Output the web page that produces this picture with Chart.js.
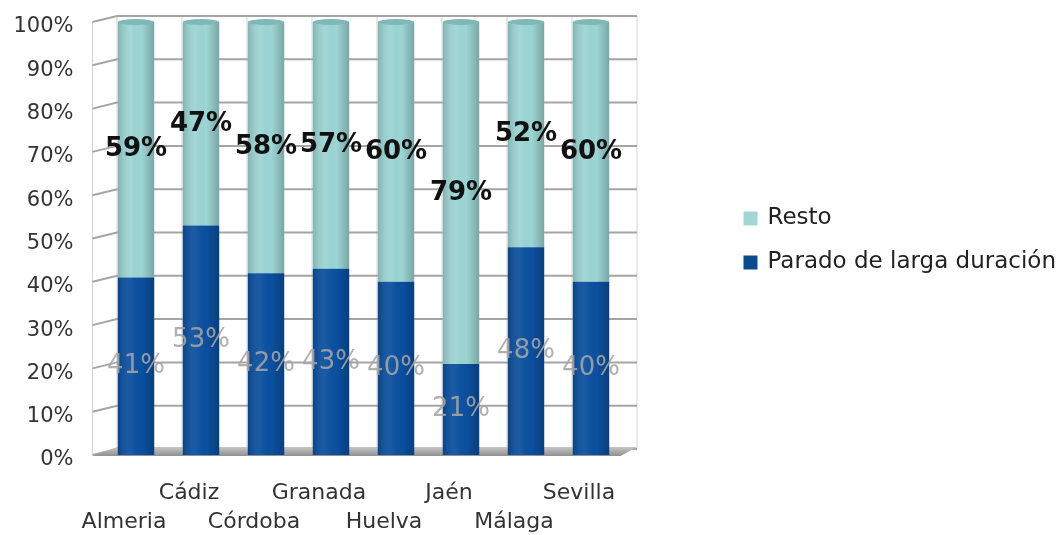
<!DOCTYPE html>
<html>
<head>
<meta charset="utf-8">
<script src="https://cdn.jsdelivr.net/npm/chart.js@4/dist/chart.umd.min.js"></script>
<style>
  body { margin: 0; background: #fff; }
</style>
</head>
<body>
<canvas id="myChart" width="1057" height="535"></canvas>
<script>
const provincias = ['Almeria', 'Cádiz', 'Córdoba', 'Granada', 'Huelva', 'Jaén', 'Málaga', 'Sevilla'];
const parado = [41, 53, 42, 43, 40, 21, 48, 40];
const resto = [59, 47, 58, 57, 60, 79, 52, 60];
const yTicks = [0, 10, 20, 30, 40, 50, 60, 70, 80, 90, 100];

const FONT = '"DejaVu Sans", sans-serif';
const restoColor = '#9cd5d4';
const paradoColor = '#0b50a0';

// fake 3D box: walls, floor and grid behind the bars
const wallsPlugin = {
    id: 'walls',
    beforeDatasetsDraw(chart) {
        const { ctx, chartArea } = chart;
        const y = chart.scales.y;
        const dx = 13.5, dy = 6, side = 11;
        const bottom = y.getPixelForValue(0);
        const top = y.getPixelForValue(100);
        ctx.save();

        // vertical lines on back wall
        ctx.strokeStyle = '#d4d4d4';
        ctx.lineWidth = 1;
        for (let i = 0; i <= provincias.length; i++) {
            const px = chartArea.left + i * (chartArea.right - chartArea.left) / provincias.length + dx;
            ctx.beginPath();
            ctx.moveTo(px, top - dy);
            ctx.lineTo(px, bottom - dy);
            ctx.stroke();
        }
        // left wall edge
        ctx.beginPath();
        ctx.moveTo(chartArea.left - side, top);
        ctx.lineTo(chartArea.left - side, bottom);
        ctx.stroke();

        // horizontal grid
        ctx.strokeStyle = '#a5a5a5';
        ctx.lineWidth = 2;
        yTicks.forEach(v => {
            const py = y.getPixelForValue(v);
            ctx.beginPath();
            ctx.moveTo(chartArea.left - side, py);
            ctx.lineTo(chartArea.left + dx, py - dy);
            ctx.lineTo(chartArea.right + dx, py - dy);
            ctx.stroke();
        });

        // floor
        const g = ctx.createLinearGradient(0, bottom - dy - 2, 0, bottom + 2);
        g.addColorStop(0, '#c6c6c6');
        g.addColorStop(1, '#8a8a8a');
        ctx.fillStyle = g;
        ctx.beginPath();
        ctx.moveTo(chartArea.left - side, bottom + 1);
        ctx.lineTo(chartArea.right - 3, bottom + 1);
        ctx.lineTo(chartArea.right + dx, bottom - dy - 2);
        ctx.lineTo(chartArea.left + dx, bottom - dy - 2);
        ctx.closePath();
        ctx.fill();
        ctx.restore();
    }
};

// cylinder shading + value labels
const labelsPlugin = {
    id: 'barLabels',
    afterDatasetsDraw(chart) {
        const { ctx } = chart;
        ctx.save();
        chart.data.datasets.forEach((ds, di) => {
            const meta = chart.getDatasetMeta(di);
            meta.data.forEach(bar => {
                const { x, y, base, width } = bar.getProps(['x', 'y', 'base', 'width'], true);
                const g = ctx.createLinearGradient(x - width / 2, 0, x + width / 2, 0);
                g.addColorStop(0, 'rgba(0,0,0,0.16)');
                g.addColorStop(0.35, 'rgba(255,255,255,0.06)');
                g.addColorStop(0.65, 'rgba(0,0,0,0)');
                g.addColorStop(1, 'rgba(0,0,0,0.22)');
                ctx.fillStyle = g;
                ctx.fillRect(x - width / 2, y, width, base - y);
                if (di === 1) {
                    ctx.fillStyle = '#7fb8b6';
                    ctx.beginPath();
                    ctx.ellipse(x, y, width / 2, 3, 0, 0, Math.PI * 2);
                    ctx.fill();
                }
            });
        });
        chart.data.datasets.forEach((ds, di) => {
            const meta = chart.getDatasetMeta(di);
            meta.data.forEach((bar, i) => {
                const { x, y, base } = bar.getProps(['x', 'y', 'base'], true);
                ctx.textAlign = 'center';
                ctx.textBaseline = 'middle';
                if (di === 1) {
                    ctx.font = 'bold 26px ' + FONT;
                    ctx.fillStyle = '#111';
                } else {
                    ctx.font = '26px ' + FONT;
                    ctx.fillStyle = 'rgba(165,165,165,0.88)';
                }
                ctx.fillText(ds.data[i] + '%', x, (y + base) / 2);
            });
        });
        ctx.restore();
    }
};

// legend drawn on the right
const legendPlugin = {
    id: 'sideLegend',
    afterDraw(chart) {
        const { ctx, chartArea } = chart;
        const items = [
            { text: 'Resto', color: '#a3d5d5' },
            { text: 'Parado de larga duración', color: '#0b4a8c' }
        ];
        const lx = chartArea.right + 120;
        const mid = (chartArea.top + chartArea.bottom) / 2;
        ctx.save();
        ctx.font = '23px ' + FONT;
        ctx.textBaseline = 'middle';
        ctx.textAlign = 'left';
        items.forEach((it, i) => {
            const cy = mid - 20 + i * 44;
            ctx.fillStyle = it.color;
            ctx.fillRect(lx, cy - 7, 14, 14);
            ctx.fillStyle = '#222';
            ctx.fillText(it.text, lx + 24, cy);
        });
        ctx.restore();
    }
};

const ctx = document.getElementById('myChart').getContext('2d');
new Chart(ctx, {
    type: 'bar',
    data: {
        labels: provincias,
        datasets: [
            {
                label: 'Parado de larga duración',
                data: parado,
                backgroundColor: paradoColor,
                barPercentage: 0.56,
                categoryPercentage: 1
            },
            {
                label: 'Resto',
                data: resto,
                backgroundColor: restoColor,
                barPercentage: 0.56,
                categoryPercentage: 1
            }
        ]
    },
    options: {
        responsive: false,
        animation: false,
        layout: { padding: { left: 13.5, right: 433.5, top: 22, bottom: 0 } },
        plugins: {
            legend: { display: false },
            tooltip: { enabled: false }
        },
        scales: {
            x: {
                stacked: true,
                grid: { display: false, drawTicks: false },
                border: { display: false },
                afterFit: s => { s.height = 80; s.paddingLeft = 0; s.paddingRight = 0; },
                ticks: {
                    autoSkip: false,
                    maxRotation: 0,
                    padding: 23,
                    labelOffset: -12,
                    color: '#333',
                    font: { family: FONT, size: 22, lineHeight: 1.35 },
                    callback: (v, i) => i % 2 ? [provincias[i], ''] : ['', provincias[i]]
                }
            },
            y: {
                stacked: true,
                min: 0,
                max: 100,
                grid: { display: false, drawTicks: false },
                border: { display: false },
                afterFit: s => { s.width = 90; s.paddingTop = 0; s.paddingBottom = 0; },
                ticks: {
                    stepSize: 10,
                    padding: 30,
                    labelOffset: 5,
                    color: '#333',
                    font: { family: FONT, size: 21 },
                    callback: v => v + '%'
                }
            }
        }
    },
    plugins: [wallsPlugin, labelsPlugin, legendPlugin]
});
</script>
</body>
</html>
